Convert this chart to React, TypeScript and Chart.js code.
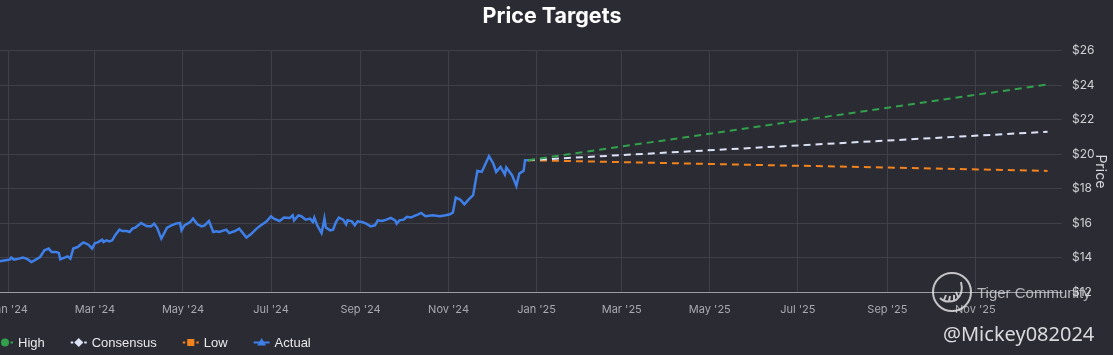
import React, { useEffect, useRef } from 'react';
import { Chart, registerables } from 'chart.js';

Chart.register(...registerables);

// ---- data ----
const actualDates = [
  '2023-12-20', '2023-12-26', '2023-12-30', '2024-01-02', '2024-01-03', '2024-01-05', '2024-01-09', '2024-01-11',
  '2024-01-14', '2024-01-17', '2024-01-20', '2024-01-23', '2024-01-26', '2024-01-29', '2024-01-31', '2024-02-03',
  '2024-02-05', '2024-02-06', '2024-02-09', '2024-02-11', '2024-02-13', '2024-02-15', '2024-02-18', '2024-02-21',
  '2024-02-22', '2024-02-25', '2024-02-26', '2024-02-28', '2024-03-01', '2024-03-03', '2024-03-06', '2024-03-07',
  '2024-03-09', '2024-03-11', '2024-03-13', '2024-03-15', '2024-03-18', '2024-03-20', '2024-03-23', '2024-03-25',
  '2024-03-27', '2024-03-29', '2024-04-02', '2024-04-06', '2024-04-09', '2024-04-11', '2024-04-13', '2024-04-16',
  '2024-04-20', '2024-04-23', '2024-04-26', '2024-04-29', '2024-04-30', '2024-05-02', '2024-05-06', '2024-05-08',
  '2024-05-11', '2024-05-14', '2024-05-16', '2024-05-19', '2024-05-22', '2024-05-24', '2024-05-26', '2024-05-31',
  '2024-06-02', '2024-06-06', '2024-06-09', '2024-06-14', '2024-06-17', '2024-06-21', '2024-06-24', '2024-06-28',
  '2024-07-01', '2024-07-03', '2024-07-07', '2024-07-10', '2024-07-14', '2024-07-16', '2024-07-17', '2024-07-20',
  '2024-07-22', '2024-07-25', '2024-07-28', '2024-07-30', '2024-07-31', '2024-08-02', '2024-08-05', '2024-08-06',
  '2024-08-07', '2024-08-08', '2024-08-11', '2024-08-13', '2024-08-15', '2024-08-17', '2024-08-20', '2024-08-22',
  '2024-08-23', '2024-08-26', '2024-08-28', '2024-08-30', '2024-09-02', '2024-09-05', '2024-09-08', '2024-09-11',
  '2024-09-13', '2024-09-16', '2024-09-19', '2024-09-22', '2024-09-25', '2024-09-26', '2024-09-28', '2024-10-01',
  '2024-10-03', '2024-10-06', '2024-10-08', '2024-10-11', '2024-10-13', '2024-10-16', '2024-10-21', '2024-10-26',
  '2024-10-30', '2024-11-02', '2024-11-04', '2024-11-06', '2024-11-09', '2024-11-12', '2024-11-15', '2024-11-18',
  '2024-11-21', '2024-11-24', '2024-11-29', '2024-12-02', '2024-12-04', '2024-12-07', '2024-12-10', '2024-12-11',
  '2024-12-15', '2024-12-18', '2024-12-20', '2024-12-23', '2024-12-24', '2024-12-26',
];
const actualPrices = [
  13.75, 13.78, 13.84, 13.88, 14.0, 13.88, 13.95, 14.0,
  13.92, 13.74, 13.88, 14.03, 14.42, 14.52, 14.32, 14.32,
  14.27, 13.9, 14.0, 14.07, 13.94, 14.52, 14.61, 14.81,
  14.88, 14.77, 14.71, 14.52, 14.84, 14.88, 15.04, 14.9,
  15.0, 14.94, 15.0, 15.29, 15.62, 15.54, 15.54, 15.48,
  15.68, 15.74, 16.01, 15.81, 15.81, 15.97, 15.74, 15.1,
  15.74, 15.87, 15.97, 16.01, 15.58, 15.87, 16.06, 16.26,
  15.93, 15.81, 15.87, 16.12, 15.48, 15.52, 15.48, 15.62,
  15.42, 15.54, 15.68, 15.16, 15.35, 15.68, 15.87, 16.1,
  16.4, 16.26, 16.12, 16.32, 16.3, 16.45, 16.16, 16.45,
  16.4, 16.2, 16.26, 16.06, 16.32, 15.87, 15.42, 15.81,
  16.26, 15.74, 15.58, 15.62, 16.06, 16.32, 16.2, 15.93,
  16.16, 16.1, 15.87, 16.1, 16.06, 15.97, 15.81, 15.87,
  16.16, 16.12, 16.2, 16.3, 16.16, 15.97, 16.16, 16.2,
  16.36, 16.32, 16.4, 16.51, 16.59, 16.4, 16.45, 16.4,
  16.45, 16.51, 16.62, 17.48, 17.37, 17.09, 17.37, 17.62,
  19.03, 18.97, 19.88, 19.46, 18.97, 19.26, 18.82, 19.23,
  18.78, 18.16, 18.88, 19.03, 19.65, 19.65,
];

const targetDates = ['2024-12-26', '2025-12-21'];
const highTarget = [19.65, 24.05];
const consensusTarget = [19.65, 21.3];
const lowTarget = [19.65, 19.03];

const xTickDates = [
  '2024-01-01', '2024-03-01', '2024-05-01', '2024-07-01', '2024-09-01', '2024-11-01',
  '2025-01-01', '2025-03-01', '2025-05-01', '2025-07-01', '2025-09-01', '2025-11-01',
];
const xTickLabels = [
  "Jan '24", "Mar '24", "May '24", "Jul '24", "Sep '24", "Nov '24",
  "Jan '25", "Mar '25", "May '25", "Jul '25", "Sep '25", "Nov '25",
];
const xMinDate = '2023-12-20';
const xMaxDate = '2025-12-31';
const yMin = 12;
const yMax = 26;
const yStep = 2;

// ---- styles ----
const BG = '#2b2b33';
const GRID = '#404049';
const GREEN = '#33a04c';
const LAVENDER = '#dde3f6';
const ORANGE = '#f2831f';
const BLUE = '#3e7fe8';

const CANVAS_W = 1122;
const CANVAS_H = 355;
const OFFSET_X = -9;

function toPoints(dates: string[], values: number[]) {
  return dates.map((d, i) => ({ x: Date.parse(d), y: values[i] }));
}

function drawMarker(ctx: CanvasRenderingContext2D, style: string, x: number, y: number, color: string) {
  ctx.fillStyle = color;
  ctx.beginPath();
  if (style === 'circle') {
    ctx.arc(x, y, 4, 0, Math.PI * 2);
  } else if (style === 'rectRot') {
    ctx.moveTo(x, y - 4.5);
    ctx.lineTo(x + 4.5, y);
    ctx.lineTo(x, y + 4.5);
    ctx.lineTo(x - 4.5, y);
    ctx.closePath();
  } else if (style === 'rect') {
    ctx.rect(x - 3.5, y - 3.5, 7, 7);
  } else {
    ctx.moveTo(x, y - 4.5);
    ctx.lineTo(x + 4.5, y + 3);
    ctx.lineTo(x - 4.5, y + 3);
    ctx.closePath();
  }
  ctx.fill();
}

const legendPlugin = {
  id: 'customLegend',
  afterDraw(chart: any) {
    const ctx: CanvasRenderingContext2D = chart.ctx;
    ctx.save();
    ctx.font = '13px "Liberation Sans", Arial, sans-serif';
    ctx.textBaseline = 'middle';
    ctx.textAlign = 'left';
    let x = 6;
    const y = 342.5;
    chart.data.datasets.forEach((ds: any) => {
      const color = ds.borderColor as string;
      ctx.strokeStyle = color;
      ctx.lineWidth = 2;
      ctx.setLineDash(ds.borderDash && ds.borderDash.length ? [2.5, 2] : []);
      ctx.beginPath();
      ctx.moveTo(x, y);
      ctx.lineTo(x + 16, y);
      ctx.stroke();
      ctx.setLineDash([]);
      drawMarker(ctx, ds.pointStyle, x + 8, y, color);
      ctx.fillStyle = '#e8e8ec';
      ctx.fillText(ds.label, x + 21, y + 0.5);
      x += 21 + ctx.measureText(ds.label).width + 26;
    });
    ctx.restore();
  },
};

export default function App() {
  const canvasRef = useRef<HTMLCanvasElement | null>(null);

  useEffect(() => {
    document.body.style.margin = '0';
    document.body.style.background = BG;
    const canvas = canvasRef.current;
    if (!canvas) return;
    const tickMs = xTickDates.map((d) => Date.parse(d));
    const chart = new Chart(canvas, {
      type: 'line',
      data: {
        datasets: [
          {
            label: 'High',
            data: toPoints(targetDates, highTarget),
            borderColor: GREEN,
            borderWidth: 2,
            borderDash: [7, 5],
            pointStyle: 'circle',
            pointRadius: 0,
          },
          {
            label: 'Consensus',
            data: toPoints(targetDates, consensusTarget),
            borderColor: LAVENDER,
            borderWidth: 2,
            borderDash: [7, 5],
            pointStyle: 'rectRot',
            pointRadius: 0,
          },
          {
            label: 'Low',
            data: toPoints(targetDates, lowTarget),
            borderColor: ORANGE,
            borderWidth: 2,
            borderDash: [7, 5],
            pointStyle: 'rect',
            pointRadius: 0,
          },
          {
            label: 'Actual',
            data: toPoints(actualDates, actualPrices),
            borderColor: BLUE,
            borderWidth: 2.5,
            pointStyle: 'triangle',
            pointRadius: 0,
            tension: 0,
          },
        ],
      } as any,
      options: {
        animation: false,
        responsive: false,
        maintainAspectRatio: false,
        layout: { padding: { left: 0, right: 0, top: 0, bottom: 37 } },
        plugins: {
          legend: { display: false },
          tooltip: { enabled: false },
          title: {
            display: true,
            text: 'Price Targets',
            color: '#ffffff',
            font: { family: 'Inter', size: 21.5, weight: 'bold' },
            padding: { top: 3.5, bottom: 21.5 },
          },
        },
        scales: {
          x: {
            type: 'linear',
            min: Date.parse(xMinDate),
            max: Date.parse(xMaxDate),
            afterBuildTicks: (s: any) => {
              s.ticks = tickMs.map((v) => ({ value: v }));
            },
            afterFit: (s: any) => {
              s.height = 26;
              s.paddingLeft = 0;
              s.paddingRight = 0;
            },
            ticks: {
              autoSkip: false,
              maxRotation: 0,
              color: '#a9a9b1',
              font: { family: 'Inter', size: 11 },
              padding: 11,
              callback: (v: any) => {
                const i = tickMs.indexOf(Number(v));
                return i >= 0 ? xTickLabels[i] : '';
              },
            },
            grid: { color: GRID, drawTicks: false },
            border: { display: true, color: '#9c9ca3', width: 1 },
          },
          y: {
            position: 'right',
            min: yMin,
            max: yMax,
            afterFit: (s: any) => {
              s.width = 51;
              s.paddingTop = 0;
              s.paddingBottom = 0;
            },
            ticks: {
              stepSize: yStep,
              color: '#cfcfd5',
              font: { family: 'Inter', size: 12 },
              padding: 10,
              callback: (v: any) => '$' + v,
            },
            grid: { color: GRID, drawTicks: false },
            border: { display: false },
            title: {
              display: true,
              text: 'Price',
              color: '#d8d8de',
              font: { family: 'Inter', size: 14 },
              padding: 4,
            },
          },
        },
      } as any,
      plugins: [legendPlugin],
    });
    return () => chart.destroy();
  }, []);

  return (
    <div>
      <div
        style={{
          position: 'fixed',
          left: OFFSET_X,
          top: 0,
          width: CANVAS_W,
          height: CANVAS_H,
          background: BG,
        }}
      >
        <canvas ref={canvasRef} width={CANVAS_W} height={CANVAS_H} style={{ display: 'block' }} />
      </div>
      <svg
        width={44}
        height={44}
        style={{ position: 'fixed', left: 930, top: 270, pointerEvents: 'none' }}
      >
        <circle cx={22} cy={22} r={19} fill="none" stroke="rgba(235,235,235,0.8)" strokeWidth={2} />
        <path
          d="M10 28 Q 16 34 26 30 Q 34 24 31 12 M14 30 L16 25 M19 31 L20 26 M24 30 L24 25 M28 27 L26 22"
          fill="none"
          stroke="rgba(235,235,235,0.8)"
          strokeWidth={2}
        />
      </svg>
      <div
        style={{
          position: 'fixed',
          left: 977,
          top: 284,
          font: '15px "Liberation Sans", Arial, sans-serif',
          color: 'rgba(215,215,220,0.8)',
          whiteSpace: 'nowrap',
          pointerEvents: 'none',
        }}
      >
        Tiger Community
      </div>
      <div
        style={{
          position: 'fixed',
          left: 943,
          top: 320,
          font: '20px "Noto Sans", sans-serif',
          color: '#dadade',
          whiteSpace: 'nowrap',
          pointerEvents: 'none',
        }}
      >
        @Mickey082024
      </div>
    </div>
  );
}
